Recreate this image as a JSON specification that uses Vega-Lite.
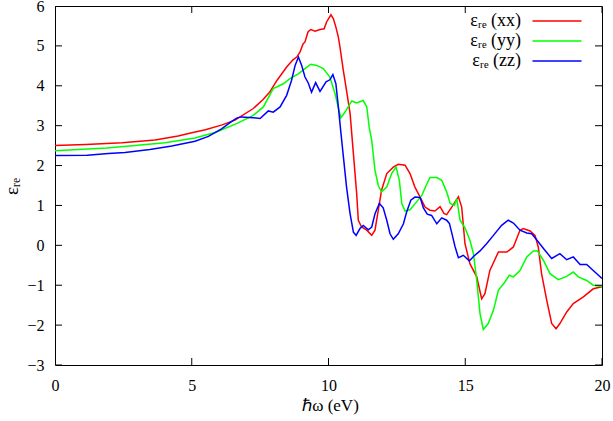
{
  "$schema": "https://vega.github.io/schema/vega-lite/v6.json",
  "width": 547,
  "height": 359,
  "autosize": {"type": "none"},
  "padding": {"left": 55, "top": 6, "right": 11, "bottom": 56},
  "background": "white",
  "config": {
    "view": {"stroke": "black", "strokeWidth": 1},
    "font": "Liberation Serif",
    "axis": {"domain": false, "ticks": false, "grid": false, "labelOverlap": false, "labelBound": false, "labelFlush": false, "labelColor": "black", "labelFont": "Liberation Serif", "labelFontSize": 16, "titleFont": "Liberation Serif", "titleFontWeight": "normal", "titleColor": "black"}
  },
  "datasets": {
    "curves": [
    {"x": 0, "y": 2.5, "s": "xx"}, {"x": 1.13, "y": 2.53, "s": "xx"}, {"x": 2.45, "y": 2.57, "s": "xx"}, {"x": 3.66, "y": 2.64, "s": "xx"}, {"x": 4.5, "y": 2.74, "s": "xx"}, {"x": 5.0, "y": 2.82, "s": "xx"}, {"x": 5.5, "y": 2.9, "s": "xx"}, {"x": 6.11, "y": 3.02, "s": "xx"}, {"x": 6.58, "y": 3.14, "s": "xx"}, {"x": 7.25, "y": 3.43, "s": "xx"}, {"x": 7.6, "y": 3.65, "s": "xx"}, {"x": 7.86, "y": 3.85, "s": "xx"}, {"x": 8.12, "y": 4.14, "s": "xx"}, {"x": 8.47, "y": 4.47, "s": "xx"}, {"x": 8.7, "y": 4.65, "s": "xx"}, {"x": 8.84, "y": 4.72, "s": "xx"}, {"x": 8.96, "y": 4.85, "s": "xx"}, {"x": 9.07, "y": 5.05, "s": "xx"}, {"x": 9.14, "y": 5.1, "s": "xx"}, {"x": 9.25, "y": 5.35, "s": "xx"}, {"x": 9.35, "y": 5.41, "s": "xx"}, {"x": 9.51, "y": 5.37, "s": "xx"}, {"x": 9.69, "y": 5.41, "s": "xx"}, {"x": 9.84, "y": 5.43, "s": "xx"}, {"x": 9.93, "y": 5.6, "s": "xx"}, {"x": 10.09, "y": 5.78, "s": "xx"}, {"x": 10.18, "y": 5.68, "s": "xx"}, {"x": 10.27, "y": 5.47, "s": "xx"}, {"x": 10.36, "y": 5.22, "s": "xx"}, {"x": 10.42, "y": 4.97, "s": "xx"}, {"x": 10.54, "y": 4.39, "s": "xx"}, {"x": 10.66, "y": 3.88, "s": "xx"}, {"x": 10.79, "y": 3.3, "s": "xx"}, {"x": 10.91, "y": 2.3, "s": "xx"}, {"x": 11.03, "y": 1.3, "s": "xx"}, {"x": 11.09, "y": 0.63, "s": "xx"}, {"x": 11.21, "y": 0.46, "s": "xx"}, {"x": 11.4, "y": 0.38, "s": "xx"}, {"x": 11.58, "y": 0.25, "s": "xx"}, {"x": 11.7, "y": 0.38, "s": "xx"}, {"x": 11.82, "y": 0.88, "s": "xx"}, {"x": 11.94, "y": 1.38, "s": "xx"}, {"x": 12.13, "y": 1.8, "s": "xx"}, {"x": 12.37, "y": 1.96, "s": "xx"}, {"x": 12.55, "y": 2.03, "s": "xx"}, {"x": 12.8, "y": 2.01, "s": "xx"}, {"x": 12.98, "y": 1.8, "s": "xx"}, {"x": 13.16, "y": 1.46, "s": "xx"}, {"x": 13.35, "y": 1.21, "s": "xx"}, {"x": 13.53, "y": 0.96, "s": "xx"}, {"x": 13.71, "y": 0.88, "s": "xx"}, {"x": 13.89, "y": 0.86, "s": "xx"}, {"x": 14.08, "y": 0.97, "s": "xx"}, {"x": 14.22, "y": 0.8, "s": "xx"}, {"x": 14.32, "y": 0.77, "s": "xx"}, {"x": 14.5, "y": 0.95, "s": "xx"}, {"x": 14.75, "y": 1.22, "s": "xx"}, {"x": 14.87, "y": 0.96, "s": "xx"}, {"x": 14.99, "y": 0.04, "s": "xx"}, {"x": 15.17, "y": -0.46, "s": "xx"}, {"x": 15.42, "y": -0.79, "s": "xx"}, {"x": 15.6, "y": -1.34, "s": "xx"}, {"x": 15.72, "y": -1.21, "s": "xx"}, {"x": 15.9, "y": -0.63, "s": "xx"}, {"x": 16.21, "y": -0.17, "s": "xx"}, {"x": 16.52, "y": -0.17, "s": "xx"}, {"x": 16.76, "y": -0.04, "s": "xx"}, {"x": 17.0, "y": 0.38, "s": "xx"}, {"x": 17.12, "y": 0.42, "s": "xx"}, {"x": 17.37, "y": 0.36, "s": "xx"}, {"x": 17.55, "y": 0.25, "s": "xx"}, {"x": 17.67, "y": -0.04, "s": "xx"}, {"x": 17.79, "y": -0.71, "s": "xx"}, {"x": 17.98, "y": -1.38, "s": "xx"}, {"x": 18.16, "y": -1.96, "s": "xx"}, {"x": 18.32, "y": -2.09, "s": "xx"}, {"x": 18.46, "y": -1.96, "s": "xx"}, {"x": 18.71, "y": -1.67, "s": "xx"}, {"x": 18.95, "y": -1.46, "s": "xx"}, {"x": 19.32, "y": -1.29, "s": "xx"}, {"x": 19.68, "y": -1.09, "s": "xx"}, {"x": 20.0, "y": -1.04, "s": "xx"},
    {"x": 0, "y": 2.37, "s": "yy"}, {"x": 0.85, "y": 2.4, "s": "yy"}, {"x": 1.89, "y": 2.44, "s": "yy"}, {"x": 2.93, "y": 2.5, "s": "yy"}, {"x": 4.02, "y": 2.57, "s": "yy"}, {"x": 5.12, "y": 2.69, "s": "yy"}, {"x": 5.85, "y": 2.83, "s": "yy"}, {"x": 6.03, "y": 2.88, "s": "yy"}, {"x": 6.64, "y": 3.05, "s": "yy"}, {"x": 7.25, "y": 3.26, "s": "yy"}, {"x": 7.62, "y": 3.47, "s": "yy"}, {"x": 7.98, "y": 3.93, "s": "yy"}, {"x": 8.35, "y": 4.05, "s": "yy"}, {"x": 8.59, "y": 4.18, "s": "yy"}, {"x": 8.9, "y": 4.3, "s": "yy"}, {"x": 9.14, "y": 4.43, "s": "yy"}, {"x": 9.35, "y": 4.54, "s": "yy"}, {"x": 9.57, "y": 4.51, "s": "yy"}, {"x": 9.81, "y": 4.43, "s": "yy"}, {"x": 10.05, "y": 4.22, "s": "yy"}, {"x": 10.24, "y": 3.8, "s": "yy"}, {"x": 10.36, "y": 3.45, "s": "yy"}, {"x": 10.45, "y": 3.2, "s": "yy"}, {"x": 10.54, "y": 3.28, "s": "yy"}, {"x": 10.66, "y": 3.4, "s": "yy"}, {"x": 10.85, "y": 3.62, "s": "yy"}, {"x": 11.03, "y": 3.57, "s": "yy"}, {"x": 11.27, "y": 3.63, "s": "yy"}, {"x": 11.4, "y": 3.47, "s": "yy"}, {"x": 11.49, "y": 2.95, "s": "yy"}, {"x": 11.58, "y": 2.63, "s": "yy"}, {"x": 11.7, "y": 1.88, "s": "yy"}, {"x": 11.82, "y": 1.5, "s": "yy"}, {"x": 11.94, "y": 1.34, "s": "yy"}, {"x": 12.13, "y": 1.46, "s": "yy"}, {"x": 12.31, "y": 1.8, "s": "yy"}, {"x": 12.47, "y": 1.96, "s": "yy"}, {"x": 12.59, "y": 1.63, "s": "yy"}, {"x": 12.68, "y": 1.05, "s": "yy"}, {"x": 12.8, "y": 0.86, "s": "yy"}, {"x": 12.98, "y": 0.89, "s": "yy"}, {"x": 13.22, "y": 1.09, "s": "yy"}, {"x": 13.41, "y": 1.25, "s": "yy"}, {"x": 13.57, "y": 1.5, "s": "yy"}, {"x": 13.71, "y": 1.7, "s": "yy"}, {"x": 13.96, "y": 1.7, "s": "yy"}, {"x": 14.14, "y": 1.63, "s": "yy"}, {"x": 14.32, "y": 1.34, "s": "yy"}, {"x": 14.45, "y": 1.05, "s": "yy"}, {"x": 14.6, "y": 1.0, "s": "yy"}, {"x": 14.69, "y": 1.17, "s": "yy"}, {"x": 14.81, "y": 0.63, "s": "yy"}, {"x": 14.99, "y": 0.44, "s": "yy"}, {"x": 15.17, "y": 0.13, "s": "yy"}, {"x": 15.3, "y": -0.21, "s": "yy"}, {"x": 15.42, "y": -0.88, "s": "yy"}, {"x": 15.54, "y": -1.71, "s": "yy"}, {"x": 15.66, "y": -2.11, "s": "yy"}, {"x": 15.84, "y": -1.96, "s": "yy"}, {"x": 16.03, "y": -1.63, "s": "yy"}, {"x": 16.21, "y": -1.13, "s": "yy"}, {"x": 16.45, "y": -0.92, "s": "yy"}, {"x": 16.61, "y": -0.75, "s": "yy"}, {"x": 16.76, "y": -0.79, "s": "yy"}, {"x": 17.0, "y": -0.63, "s": "yy"}, {"x": 17.25, "y": -0.29, "s": "yy"}, {"x": 17.49, "y": -0.14, "s": "yy"}, {"x": 17.64, "y": -0.14, "s": "yy"}, {"x": 17.86, "y": -0.38, "s": "yy"}, {"x": 18.1, "y": -0.71, "s": "yy"}, {"x": 18.4, "y": -0.86, "s": "yy"}, {"x": 18.71, "y": -0.78, "s": "yy"}, {"x": 18.95, "y": -0.67, "s": "yy"}, {"x": 19.13, "y": -0.79, "s": "yy"}, {"x": 19.44, "y": -0.88, "s": "yy"}, {"x": 19.68, "y": -1.0, "s": "yy"}, {"x": 20.0, "y": -1.03, "s": "yy"},
    {"x": 0, "y": 2.25, "s": "zz"}, {"x": 1.18, "y": 2.26, "s": "zz"}, {"x": 1.95, "y": 2.3, "s": "zz"}, {"x": 2.56, "y": 2.33, "s": "zz"}, {"x": 3.47, "y": 2.4, "s": "zz"}, {"x": 4.27, "y": 2.49, "s": "zz"}, {"x": 5.12, "y": 2.61, "s": "zz"}, {"x": 5.61, "y": 2.73, "s": "zz"}, {"x": 6.09, "y": 2.92, "s": "zz"}, {"x": 6.45, "y": 3.1, "s": "zz"}, {"x": 6.64, "y": 3.19, "s": "zz"}, {"x": 6.8, "y": 3.22, "s": "zz"}, {"x": 7.25, "y": 3.2, "s": "zz"}, {"x": 7.5, "y": 3.18, "s": "zz"}, {"x": 7.8, "y": 3.37, "s": "zz"}, {"x": 7.98, "y": 3.34, "s": "zz"}, {"x": 8.23, "y": 3.47, "s": "zz"}, {"x": 8.47, "y": 3.76, "s": "zz"}, {"x": 8.65, "y": 4.14, "s": "zz"}, {"x": 8.78, "y": 4.51, "s": "zz"}, {"x": 8.9, "y": 4.72, "s": "zz"}, {"x": 9.02, "y": 4.51, "s": "zz"}, {"x": 9.14, "y": 4.22, "s": "zz"}, {"x": 9.26, "y": 4.07, "s": "zz"}, {"x": 9.38, "y": 3.84, "s": "zz"}, {"x": 9.53, "y": 4.08, "s": "zz"}, {"x": 9.69, "y": 3.86, "s": "zz"}, {"x": 9.91, "y": 4.1, "s": "zz"}, {"x": 10.05, "y": 4.15, "s": "zz"}, {"x": 10.16, "y": 4.28, "s": "zz"}, {"x": 10.27, "y": 4.05, "s": "zz"}, {"x": 10.36, "y": 3.47, "s": "zz"}, {"x": 10.45, "y": 2.85, "s": "zz"}, {"x": 10.54, "y": 2.25, "s": "zz"}, {"x": 10.66, "y": 1.46, "s": "zz"}, {"x": 10.79, "y": 0.79, "s": "zz"}, {"x": 10.91, "y": 0.33, "s": "zz"}, {"x": 11.01, "y": 0.25, "s": "zz"}, {"x": 11.15, "y": 0.42, "s": "zz"}, {"x": 11.27, "y": 0.5, "s": "zz"}, {"x": 11.46, "y": 0.39, "s": "zz"}, {"x": 11.58, "y": 0.46, "s": "zz"}, {"x": 11.7, "y": 0.79, "s": "zz"}, {"x": 11.86, "y": 1.05, "s": "zz"}, {"x": 12.0, "y": 0.94, "s": "zz"}, {"x": 12.13, "y": 0.63, "s": "zz"}, {"x": 12.25, "y": 0.29, "s": "zz"}, {"x": 12.37, "y": 0.15, "s": "zz"}, {"x": 12.55, "y": 0.29, "s": "zz"}, {"x": 12.74, "y": 0.54, "s": "zz"}, {"x": 12.86, "y": 0.84, "s": "zz"}, {"x": 13.01, "y": 1.13, "s": "zz"}, {"x": 13.16, "y": 1.21, "s": "zz"}, {"x": 13.35, "y": 1.2, "s": "zz"}, {"x": 13.47, "y": 0.94, "s": "zz"}, {"x": 13.61, "y": 0.78, "s": "zz"}, {"x": 13.77, "y": 0.75, "s": "zz"}, {"x": 13.96, "y": 0.54, "s": "zz"}, {"x": 14.14, "y": 0.69, "s": "zz"}, {"x": 14.32, "y": 0.63, "s": "zz"}, {"x": 14.42, "y": 0.55, "s": "zz"}, {"x": 14.5, "y": 0.33, "s": "zz"}, {"x": 14.63, "y": -0.04, "s": "zz"}, {"x": 14.75, "y": -0.31, "s": "zz"}, {"x": 14.93, "y": -0.25, "s": "zz"}, {"x": 15.15, "y": -0.39, "s": "zz"}, {"x": 15.3, "y": -0.28, "s": "zz"}, {"x": 15.54, "y": -0.14, "s": "zz"}, {"x": 15.78, "y": 0.04, "s": "zz"}, {"x": 16.03, "y": 0.25, "s": "zz"}, {"x": 16.33, "y": 0.5, "s": "zz"}, {"x": 16.57, "y": 0.63, "s": "zz"}, {"x": 16.76, "y": 0.56, "s": "zz"}, {"x": 17.0, "y": 0.38, "s": "zz"}, {"x": 17.25, "y": 0.31, "s": "zz"}, {"x": 17.43, "y": 0.29, "s": "zz"}, {"x": 17.61, "y": 0.14, "s": "zz"}, {"x": 17.86, "y": -0.08, "s": "zz"}, {"x": 18.16, "y": -0.33, "s": "zz"}, {"x": 18.46, "y": -0.21, "s": "zz"}, {"x": 18.71, "y": -0.36, "s": "zz"}, {"x": 18.95, "y": -0.29, "s": "zz"}, {"x": 19.2, "y": -0.48, "s": "zz"}, {"x": 19.44, "y": -0.48, "s": "zz"}, {"x": 19.68, "y": -0.63, "s": "zz"}, {"x": 20.0, "y": -0.83, "s": "zz"}
    ],
    "xticks": [{"x": 0}, {"x": 5}, {"x": 10}, {"x": 15}, {"x": 20}],
    "yticks": [{"y": -3}, {"y": -2}, {"y": -1}, {"y": 0}, {"y": 1}, {"y": 2}, {"y": 3}, {"y": 4}, {"y": 5}, {"y": 6}]
  },
  "layer": [
    {
      "data": {"name": "curves"},
      "mark": {"type": "line", "strokeWidth": 1.5, "clip": true},
      "encoding": {
        "x": {"field": "x", "type": "quantitative", "title": "ℏω (eV)", "scale": {"domain": [0, 20], "nice": false, "zero": false},
              "axis": {"orient": "bottom", "values": [0, 5, 10, 15, 20], "labelOverlap": false, "labelPadding": 12, "titleFontSize": 17, "titleX": 275, "titleY": 45, "titleBaseline": "alphabetic"}},
        "y": {"field": "y", "type": "quantitative", "title": "εᵣₑ", "scale": {"domain": [-3, 6], "nice": false, "zero": false},
              "axis": {"orient": "left", "values": [-3, -2, -1, 0, 1, 2, 3, 4, 5, 6], "tickCount": 10, "labelOverlap": false, "labelPadding": 11, "titleFontSize": 19, "titleAngle": -90, "titleX": -44, "titleY": 180, "titleAlign": "center", "titleBaseline": "middle"}},
        "color": {"field": "s", "type": "nominal", "scale": {"domain": ["xx", "yy", "zz"], "range": ["#ff0000", "#00ff00", "#0000ff"]},
                  "legend": {"orient": "none", "legendX": 491, "legendY": 4, "title": null, "padding": 0, "symbolType": "M-2.45,0H2.45", "symbolSize": 400, "symbolStrokeWidth": 1.5, "symbolFillColor": "transparent", "labelAlign": "right", "labelOffset": -47, "labelFont": "Liberation Serif", "labelFontSize": 18, "labelColor": "black", "rowPadding": -4, "labelExpr": "'εᵣₑ (' + datum.label + ')'"}}
      }
    },
    {
      "data": {"name": "xticks"},
      "mark": {"type": "tick", "orient": "vertical", "size": 14, "thickness": 1, "color": "black", "opacity": 1, "clip": true},
      "encoding": {
        "x": {"field": "x", "type": "quantitative", "title": "ℏω (eV)"},
        "y": {"datum": -3, "type": "quantitative", "title": "εᵣₑ"}
      }
    },
    {
      "data": {"name": "xticks"},
      "mark": {"type": "tick", "orient": "vertical", "size": 14, "thickness": 1, "color": "black", "opacity": 1, "clip": true},
      "encoding": {
        "x": {"field": "x", "type": "quantitative", "title": "ℏω (eV)"},
        "y": {"datum": 6, "type": "quantitative", "title": "εᵣₑ"}
      }
    },
    {
      "data": {"name": "yticks"},
      "mark": {"type": "tick", "orient": "horizontal", "size": 14, "thickness": 1, "color": "black", "opacity": 1, "clip": true},
      "encoding": {
        "y": {"field": "y", "type": "quantitative", "title": "εᵣₑ"},
        "x": {"datum": 0, "type": "quantitative", "title": "ℏω (eV)"}
      }
    },
    {
      "data": {"name": "yticks"},
      "mark": {"type": "tick", "orient": "horizontal", "size": 14, "thickness": 1, "color": "black", "opacity": 1, "clip": true},
      "encoding": {
        "y": {"field": "y", "type": "quantitative", "title": "εᵣₑ"},
        "x": {"datum": 20, "type": "quantitative", "title": "ℏω (eV)"}
      }
    }
  ]
}
